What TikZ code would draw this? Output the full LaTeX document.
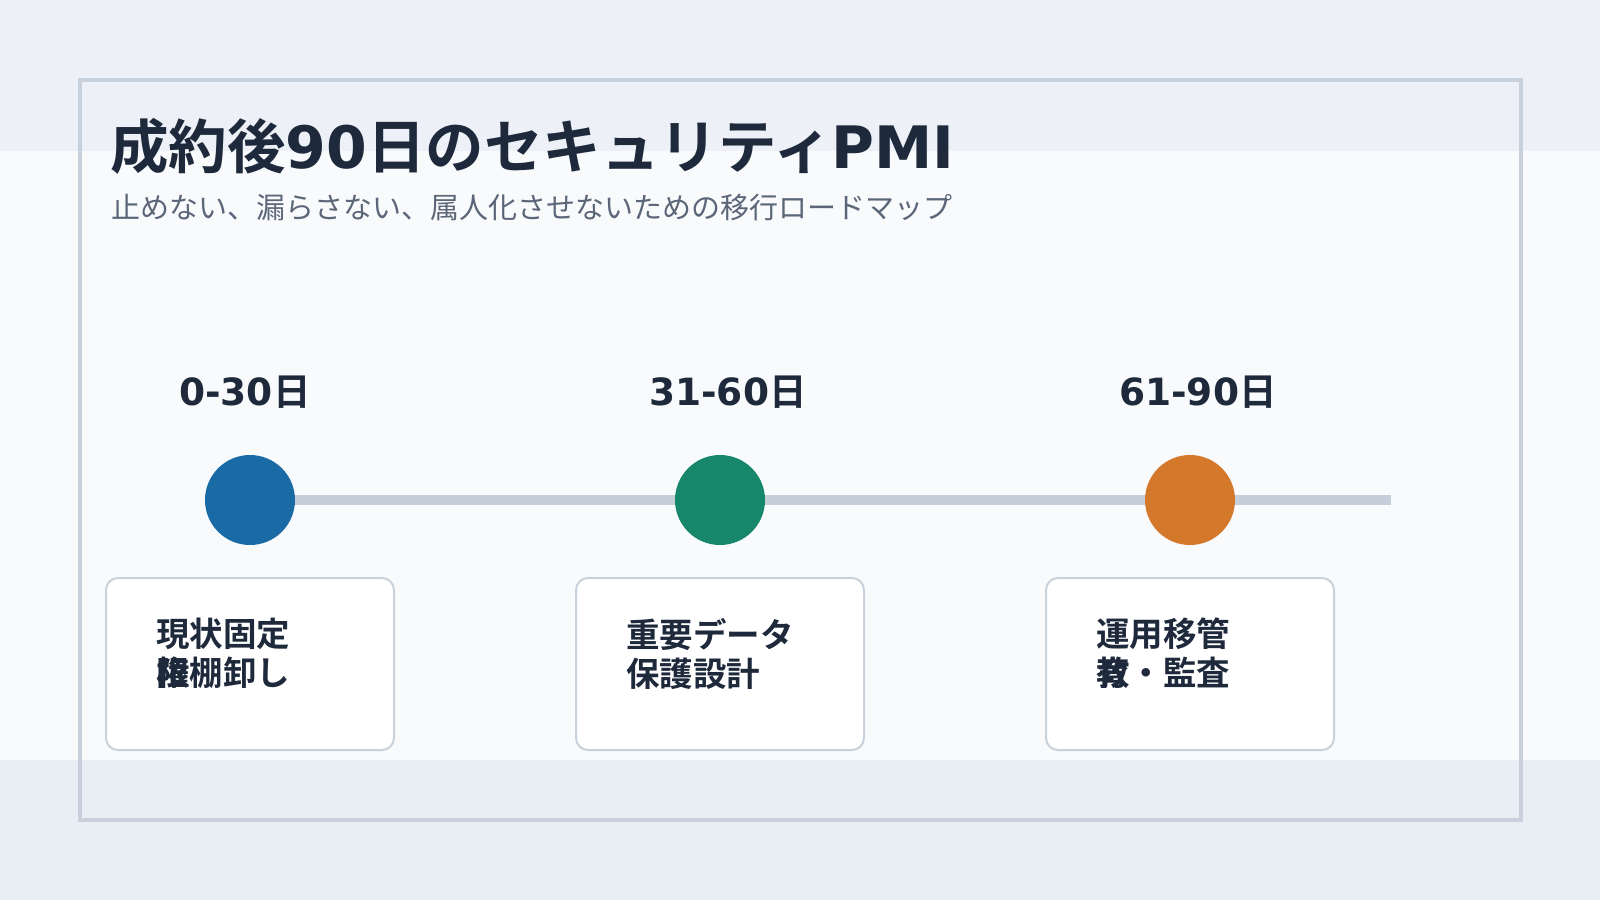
\documentclass[tikz,border=0pt]{standalone}
\usepackage{fontspec}
\usetikzlibrary{backgrounds}
\setmainfont{Noto Sans CJK JP}
\newfontfamily\jpbold{Noto Sans CJK JP Bold}
\newfontfamily\latbold{DejaVu Sans Bold}
\definecolor{bgtop}{HTML}{EDF1F7}
\definecolor{bgmid}{HTML}{F8FAFC}
\definecolor{bgbot}{HTML}{E8EEF4}
\definecolor{framec}{HTML}{C7D0DB}
\definecolor{ink}{HTML}{1E293B}
\definecolor{subink}{HTML}{5B6678}
\definecolor{linec}{HTML}{C5CFD9}
\definecolor{cblue}{HTML}{1A6AA6}
\definecolor{cgreen}{HTML}{16876A}
\definecolor{corange}{HTML}{D4792C}
\definecolor{boxline}{HTML}{C9D2DC}
\tikzset{
  phase/.style={circle,minimum size=90pt,inner sep=0pt,draw=none},
  daylabel/.style={anchor=west,inner sep=0pt,text=ink,font=\jpbold\fontsize{37.5pt}{40pt}\selectfont},
  card/.style={draw=boxline,line width=2pt,fill=white,rounded corners=12pt,minimum width=288pt,minimum height=172pt,inner sep=0pt},
  cardtext/.style={anchor=north west,inner sep=0pt,text=ink,align=left,font=\jpbold\fontsize{33.5pt}{39pt}\selectfont},
}
\begin{document}
\begin{tikzpicture}[x=1pt,y=-1pt]
\useasboundingbox (0,0) rectangle (1600,900);
\node[anchor=west,inner sep=0pt,text=ink,font=\jpbold\fontsize{58.5pt}{60pt}\selectfont] (title) at (110,146) {成約後{\latbold 90}日のセキュリティ{\latbold PMI}};
\node[anchor=west,inner sep=0pt,text=subink,font=\fontsize{29pt}{32pt}\selectfont] (subtitle) at (111,208) {止めない、漏らさない、属人化させないための移行ロードマップ};
\coordinate (lineend) at (1391,500);
\node[phase,fill=cblue] (p1) at (250,500) {};
\node[phase,fill=cgreen] (p2) at (720,500) {};
\node[phase,fill=corange] (p3) at (1190,500) {};
\begin{scope}[on background layer]
\fill[bgmid] (0,0) rectangle (1600,900);
\fill[bgtop] (0,0) rectangle (1600,151);
\fill[bgbot] (0,760) rectangle (1600,900);
\draw[framec,line width=3.5pt] (80,80) rectangle (1521,820);
\draw[linec,line width=10pt] (p1.center) -- (lineend);
\end{scope}
\node[daylabel] (l1) at (179,392) {{\latbold 0-30}日};
\node[daylabel] (l2) at (649,392) {{\latbold 31-60}日};
\node[daylabel] (l3) at (1119,392) {{\latbold 61-90}日};
\node[card] (c1) at (250,664) {};
\node[card] (c2) at (720,664) {};
\node[card] (c3) at (1190,664) {};
\node[cardtext] (t1) at (156,618) {現状固定\\\rlap{権}限棚卸し};
\node[cardtext] (t2) at (626,618) {重要データ\\保護設計};
\node[cardtext] (t3) at (1096,618) {運用移管\\\rlap{教}育・監査};
\end{tikzpicture}
\end{document}
